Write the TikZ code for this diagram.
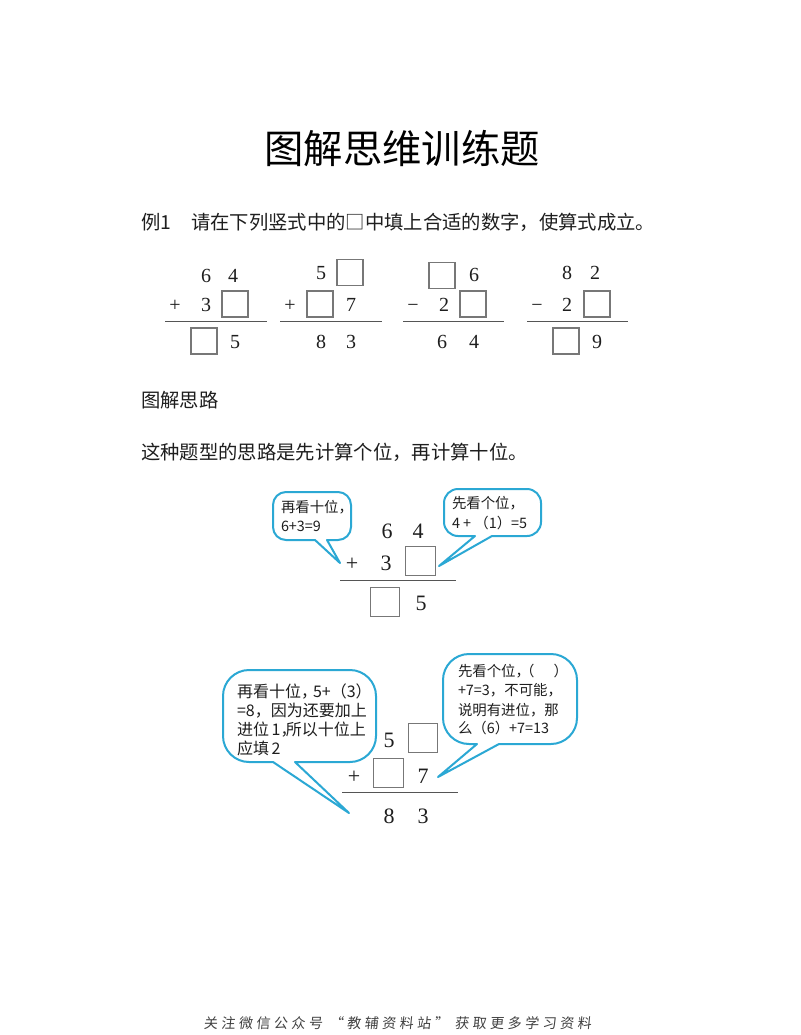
\documentclass[tikz,border=0pt]{standalone}
\usepackage{fontspec}
\setmainfont{Noto Sans CJK SC}
\newfontfamily\digitfont{Liberation Serif}
\newfontfamily\footfont[LetterSpace=25,FakeSlant=0.1]{Noto Sans CJK SC}
\definecolor{inkc}{HTML}{1E1E1E}
\definecolor{bubc}{HTML}{2BA8D4}
\definecolor{boxc}{HTML}{777777}
\definecolor{rulec}{HTML}{555555}
\newcommand\bubblepath[9]{%
 \draw[bubble] (#6,#4) -- ({#1+#5},#4)
  .. controls ({#1+.45*#5},#4) and (#1,{#4-.45*#5}) .. (#1,{#4-#5}) -- (#1,{#2+#5})
  .. controls (#1,{#2+.45*#5}) and ({#1+.45*#5},#2) .. ({#1+#5},#2) -- ({#3-#5},#2)
  .. controls ({#3-.45*#5},#2) and (#3,{#2+.45*#5}) .. (#3,{#2+#5}) -- (#3,{#4-#5})
  .. controls (#3,{#4-.45*#5}) and ({#3-.45*#5},#4) .. ({#3-#5},#4) -- (#7,#4) -- (#8,#9) -- cycle;}
\tikzset{
 base/.style={inner sep=0pt,outer sep=0pt,text=inkc},
 bodytxt/.style={base,anchor=west,text height=11.6pt,text depth=0.3pt,font=\fontsize{14.5}{16}\selectfont},
 smalltxt/.style={base,anchor=west,text height=8.6pt,text depth=1.1pt,font=\fontsize{10.8}{12}\selectfont},
 bigtxt/.style={base,anchor=west,text height=9.6pt,text depth=0.4pt,font=\fontsize{12}{14}\selectfont},
 dig/.style={base,font=\digitfont\fontsize{15}{16}\selectfont,text height=10pt,text depth=0pt},
 digb/.style={base,font=\digitfont\fontsize{16.5}{18}\selectfont,text height=11pt,text depth=0pt},
 ansbox/.style={draw=boxc,line width=.8pt,minimum size=19.5pt,inner sep=0pt},
 ansboxb/.style={draw=boxc,line width=.8pt,minimum size=22pt,inner sep=0pt},
 sumrule/.style={draw=rulec,line width=.7pt},
 bubble/.style={draw=bubc,line width=1.5pt,line join=round,fill=white},
}
\begin{document}
\begin{tikzpicture}[x=.75pt,y=-.75pt]
\useasboundingbox (0,0) rectangle (800,1035);
\fill[white] (0,0) rectangle (800,1035);
% title and text
\node[base,text=black,font=\fontsize{29.5}{32}\selectfont] (title) at (402,149) {图解思维训练题};
\node[bodytxt] (ex) at (141,222) {例1};
\node[bodytxt] (q) at (191,222) {请在下列竖式中的□中填上合适的数字，使算式成立。};
\node[bodytxt] (hd) at (141,400) {图解思路};
\node[bodytxt] (ln) at (141,452) {这种题型的思路是先计算个位，再计算十位。};
% column 1
\node[dig] (a1) at (206,276) {6};
\node[dig] (a2) at (233,276) {4};
\node[dig] (a3) at (175,305) {+};
\node[dig] (a4) at (206,305) {3};
\node[ansbox] (a5) at (235,304) {};
\coordinate (a6l) at (165,321); \coordinate (a6r) at (267,321);
\draw[sumrule] (a6l) -- (a6r);
\node[ansbox] (a7) at (204,341) {};
\node[dig] (a8) at (235,342) {5};
% column 2
\node[dig] (b1) at (321,273) {5};
\node[ansbox] (b2) at (350,272.5) {};
\node[dig] (b3) at (290,305) {+};
\node[ansbox] (b4) at (320,304) {};
\node[dig] (b5) at (351,305) {7};
\coordinate (b6l) at (280,321); \coordinate (b6r) at (382,321);
\draw[sumrule] (b6l) -- (b6r);
\node[dig] (b7) at (321,342) {8};
\node[dig] (b8) at (351,342) {3};
% column 3
\node[ansbox] (c1) at (442,275.5) {};
\node[dig] (c2) at (474,275) {6};
\node[dig] (c3) at (413,305) {−};
\node[dig] (c4) at (444,305) {2};
\node[ansbox] (c5) at (473,304) {};
\coordinate (c6l) at (403,321); \coordinate (c6r) at (504,321);
\draw[sumrule] (c6l) -- (c6r);
\node[dig] (c7) at (442,342) {6};
\node[dig] (c8) at (474,342) {4};
% column 4
\node[dig] (d1) at (567,273) {8};
\node[dig] (d2) at (595,273) {2};
\node[dig] (d3) at (537,305) {−};
\node[dig] (d4) at (567,305) {2};
\node[ansbox] (d5) at (597,304) {};
\coordinate (d6l) at (527,321); \coordinate (d6r) at (628,321);
\draw[sumrule] (d6l) -- (d6r);
\node[ansbox] (d7) at (566,341) {};
\node[dig] (d8) at (597,342) {9};
% figure 1 bubbles
\bubblepath{273}{492}{351}{540}{13}{315}{327}{340}{563}
\bubblepath{444}{489}{541}{536}{14}{475}{492}{439}{566}
\node[smalltxt] (e1) at (281,507) {再看十位，};
\node[smalltxt] (e2) at (281,526) {6+3=9};
\node[smalltxt] (e3) at (452,503) {先看个位，};
\node[smalltxt] (e4) at (452,523) {4 + （1）=5};
% figure 1 sum
\node[digb] (f1) at (387,531) {6};
\node[digb] (f2) at (418,531) {4};
\node[digb] (f3) at (352,563) {+};
\node[digb] (f4) at (386,563) {3};
\node[ansboxb] (f5) at (420.5,561) {};
\coordinate (f6l) at (340,580); \coordinate (f6r) at (456,580);
\draw[sumrule] (f6l) -- (f6r);
\node[ansboxb] (f7) at (385,602) {};
\node[digb] (f8) at (421,603) {5};
% figure 2 bubbles
\bubblepath{223}{670}{376}{762}{26}{273}{295}{349}{813}
\bubblepath{443}{654}{577}{744}{26}{477}{499}{438}{777}
\node[bigtxt] (g1) at (237,691) {再看十位，\hspace{-3pt}5+（3）};
\node[bigtxt] (g2) at (237,710) {=8，因为还要加上};
\node[bigtxt] (g3) at (237,729) {进位\,1，\hspace{-8pt}所以十位上};
\node[bigtxt] (g4) at (237,748) {应填\,2};
\node[smalltxt] (h1) at (458,671) {先看个位，\hspace{-7.5pt}（\hspace{14.5pt}）};
\node[smalltxt] (h2) at (458,690) {+7=3，不可能，};
\node[smalltxt] (h3) at (458,710) {说明有进位，那};
\node[smalltxt] (h4) at (458,728) {么（6）+7=13};
% figure 2 sum
\node[digb] (k1) at (389,740) {5};
\node[ansboxb] (k2) at (423,738) {};
\node[digb] (k3) at (354,776) {+};
\node[ansboxb] (k4) at (388.5,773) {};
\node[digb] (k5) at (423,776) {7};
\coordinate (k6l) at (342,792); \coordinate (k6r) at (458,792);
\draw[sumrule] (k6l) -- (k6r);
\node[digb] (k7) at (389,816) {8};
\node[digb] (k8) at (423,816) {3};
% footer
\node[base,font=\footfont\fontsize{10.5}{12}\selectfont,text=inkc!85] (foot) at (397.5,1023) {关注微信公众号 “教辅资料站” 获取更多学习资料};
\end{tikzpicture}
\end{document}
